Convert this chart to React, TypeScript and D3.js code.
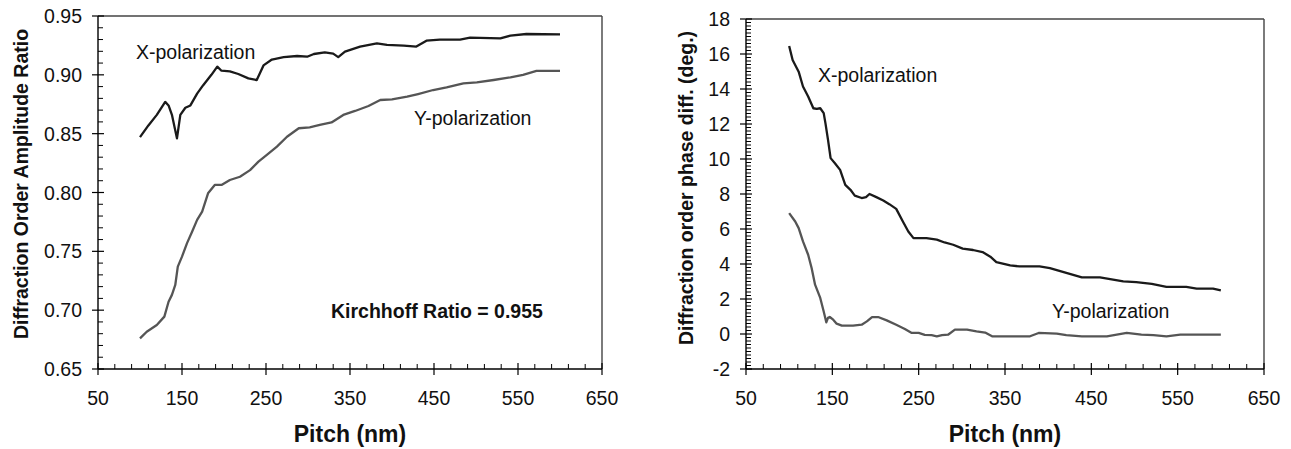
import React from 'react';
import * as d3 from 'd3';

// --- data ---
const pitchTicks = [50, 150, 250, 350, 450, 550, 650];
const ampTicks = [0.65, 0.7, 0.75, 0.8, 0.85, 0.9, 0.95];
const phaseTicks = [-2, 0, 2, 4, 6, 8, 10, 12, 14, 16, 18];

// amplitude ratio, X-polarization  [pitch nm, ratio]
const ampX: [number, number][] = [
  [100, 0.847], [110, 0.857], [120, 0.866], [130, 0.877], [134, 0.874], [138, 0.866], [144, 0.846],
  [148, 0.866], [154, 0.872], [160, 0.874], [168, 0.884], [175, 0.891], [185, 0.9], [192, 0.907],
  [197, 0.9035], [207, 0.903], [217, 0.9007], [229, 0.897], [239, 0.8956], [247, 0.908], [257, 0.913],
  [271, 0.915], [287, 0.916], [299, 0.9154], [307, 0.9177], [320, 0.919], [330, 0.918], [336, 0.915],
  [344, 0.9197], [362, 0.924], [382, 0.9268], [394, 0.9254], [414, 0.9248], [429, 0.924], [441, 0.929],
  [457, 0.93], [481, 0.93], [493, 0.9316], [529, 0.931], [541, 0.9333], [560, 0.9347], [600, 0.9344],
];

// amplitude ratio, Y-polarization
const ampY: [number, number][] = [
  [100, 0.676], [108, 0.6817], [120, 0.6874], [129, 0.6945], [134, 0.7072], [138, 0.713], [142, 0.7214],
  [145, 0.737], [150, 0.7455], [156, 0.757], [162, 0.7667], [168, 0.7767], [174, 0.7837], [181, 0.7993],
  [189, 0.8064], [197, 0.8064], [207, 0.8106], [219, 0.8134], [231, 0.819], [241, 0.8262], [251, 0.8319],
  [263, 0.839], [275, 0.8474], [289, 0.8546], [302, 0.8554], [314, 0.8574], [328, 0.8595], [342, 0.8659],
  [356, 0.8693], [372, 0.8735], [386, 0.8786], [400, 0.8792], [418, 0.8814], [431, 0.8837], [449, 0.8871],
  [465, 0.8894], [485, 0.8928], [501, 0.8936], [521, 0.8956], [541, 0.8979], [556, 0.8999], [572, 0.9033],
  [600, 0.9033],
];

// phase difference (deg.), X-polarization
const phaseX: [number, number][] = [
  [100, 16.46], [104, 15.66], [111, 14.99], [116, 14.14], [122, 13.57], [128, 12.9], [132, 12.86],
  [136, 12.9], [140, 12.62], [142, 12.05], [145, 11.09], [148, 10.05], [153, 9.76], [159, 9.38],
  [165, 8.52], [171, 8.24], [176, 7.91], [184, 7.77], [189, 7.82], [193, 8.0], [201, 7.82], [209, 7.63],
  [216, 7.42], [224, 7.15], [232, 6.4], [238, 5.86], [244, 5.48], [259, 5.48], [271, 5.39], [280, 5.23],
  [290, 5.1], [301, 4.88], [313, 4.8], [324, 4.68], [333, 4.42], [340, 4.11], [356, 3.92], [367, 3.86],
  [390, 3.86], [402, 3.77], [421, 3.49], [439, 3.24], [460, 3.24], [487, 3.01], [502, 2.97], [520, 2.86],
  [537, 2.69], [560, 2.69], [572, 2.59], [591, 2.59], [600, 2.49],
];

// phase difference (deg.), Y-polarization
const phaseY: [number, number][] = [
  [100, 6.91], [107, 6.43], [111, 6.05], [116, 5.29], [122, 4.53], [126, 3.77], [130, 2.82], [136, 2.06],
  [140, 1.29], [143, 0.67], [145, 0.92], [147, 0.97], [151, 0.82], [155, 0.59], [161, 0.48], [174, 0.48],
  [184, 0.53], [190, 0.72], [196, 0.97], [203, 0.97], [213, 0.78], [224, 0.53], [234, 0.29], [242, 0.06],
  [250, 0.06], [257, -0.05], [265, -0.07], [271, -0.13], [277, -0.07], [284, -0.04], [292, 0.25],
  [306, 0.25], [317, 0.15], [327, 0.08], [335, -0.13], [379, -0.13], [389, 0.06], [410, 0.02],
  [421, -0.07], [439, -0.13], [468, -0.13], [491, 0.06], [508, -0.04], [522, -0.07], [537, -0.13],
  [553, -0.04], [600, -0.04],
];

const FONT = "'Liberation Sans', Arial, Helvetica, sans-serif";
const X_COLOR = '#1a1a1a';
const Y_COLOR = '#555555';

type Label = { text: string; x: number; y: number; bold?: boolean };

type PanelProps = {
  left: number; right: number; top: number; bottom: number;
  yDomain: [number, number];
  yTicks: number[];
  yMinorStep: number;
  yFormat: (v: number) => string;
  yTitle: string;
  yTitleX: number;
  yTitleY: number;
  seriesX: [number, number][];
  seriesY: [number, number][];
  labels: Label[];
};

const Panel = (p: PanelProps) => {
  const x = d3.scaleLinear().domain([50, 650]).range([p.left, p.right]);
  const y = d3.scaleLinear().domain(p.yDomain).range([p.bottom, p.top]);
  const line = d3.line<[number, number]>().x(d => x(d[0])).y(d => y(d[1]));

  const xMinor = d3.range(50, 650.001, 20).filter(v => (v - 50) % 100 !== 0);
  const nY = Math.round((p.yDomain[1] - p.yDomain[0]) / p.yMinorStep);
  const yMinor = d3.range(0, nY + 1).map(i => p.yDomain[0] + i * p.yMinorStep)
    .filter(v => !p.yTicks.some(t => Math.abs(t - v) < 1e-6));

  return (
    <g fontFamily={FONT}>
      {/* frame: top and right edges */}
      <line x1={p.left} x2={p.right} y1={p.top} y2={p.top} stroke="#444" strokeWidth={1.4} />
      <line x1={p.right} x2={p.right} y1={p.top} y2={p.bottom} stroke="#444" strokeWidth={1.4} />

      {/* curves */}
      <path d={line(p.seriesY) ?? ''} fill="none" stroke={Y_COLOR} strokeWidth={2.3} strokeLinejoin="round" />
      <path d={line(p.seriesX) ?? ''} fill="none" stroke={X_COLOR} strokeWidth={2.3} strokeLinejoin="round" />

      {/* axes */}
      <line x1={p.left} x2={p.right} y1={p.bottom} y2={p.bottom} stroke="#000" strokeWidth={1.4} />
      <line x1={p.left} x2={p.left} y1={p.top} y2={p.bottom} stroke="#000" strokeWidth={1.4} />

      {xMinor.map(v => (
        <line key={'xm' + v} x1={x(v)} x2={x(v)} y1={p.bottom - 5} y2={p.bottom} stroke="#000" strokeWidth={1} />
      ))}
      {pitchTicks.map(v => (
        <g key={'xt' + v}>
          <line x1={x(v)} x2={x(v)} y1={p.bottom - 6} y2={p.bottom + 6} stroke="#000" strokeWidth={1.2} />
          <text x={x(v)} y={405} textAnchor="middle" fontSize={19.5} fill="#111">{v}</text>
        </g>
      ))}

      {yMinor.map(v => (
        <line key={'ym' + v} x1={p.left} x2={p.left + 5} y1={y(v)} y2={y(v)} stroke="#000" strokeWidth={1} />
      ))}
      {p.yTicks.map(v => (
        <g key={'yt' + v}>
          <line x1={p.left - 6} x2={p.left + 6} y1={y(v)} y2={y(v)} stroke="#000" strokeWidth={1.2} />
          <text x={p.left - 16} y={y(v)} dy="0.36em" textAnchor="end" fontSize={19.5} fill="#111">{p.yFormat(v)}</text>
        </g>
      ))}

      {/* titles */}
      <text x={(p.left + p.right) / 2} y={442} textAnchor="middle" fontSize={23} fontWeight="bold" fill="#111">Pitch (nm)</text>
      <text transform={`translate(${p.yTitleX},${p.yTitleY}) rotate(-90)`} textAnchor="middle" fontSize={19.5} fontWeight="bold" fill="#111">{p.yTitle}</text>

      {p.labels.map(l => (
        <text key={l.text} x={l.x} y={l.y} fontSize={19.5} fontWeight={l.bold ? 'bold' : 'normal'} fill="#111">{l.text}</text>
      ))}
    </g>
  );
};

export default function App() {
  return (
    <svg width={1291} height={449} style={{ position: 'absolute', left: 0, top: 0, background: '#fff' }}>
      <rect width={1291} height={449} fill="#fff" />
      <Panel
        left={98} right={602} top={16} bottom={369}
        yDomain={[0.65, 0.95]}
        yTicks={ampTicks}
        yMinorStep={0.01}
        yFormat={d3.format('.2f')}
        yTitle="Diffraction Order Amplitude Ratio"
        yTitleX={28} yTitleY={184}
        seriesX={ampX}
        seriesY={ampY}
        labels={[
          { text: 'X-polarization', x: 136, y: 59 },
          { text: 'Y-polarization', x: 414, y: 125 },
          { text: 'Kirchhoff Ratio = 0.955', x: 331, y: 318, bold: true },
        ]}
      />
      <Panel
        left={746} right={1264} top={19} bottom={369}
        yDomain={[-2, 18]}
        yTicks={phaseTicks}
        yMinorStep={0.2}
        yFormat={v => String(v)}
        yTitle="Diffraction order phase diff. (deg.)"
        yTitleX={693} yTitleY={188}
        seriesX={phaseX}
        seriesY={phaseY}
        labels={[
          { text: 'X-polarization', x: 818, y: 82 },
          { text: 'Y-polarization', x: 1052, y: 318 },
        ]}
      />
    </svg>
  );
}
